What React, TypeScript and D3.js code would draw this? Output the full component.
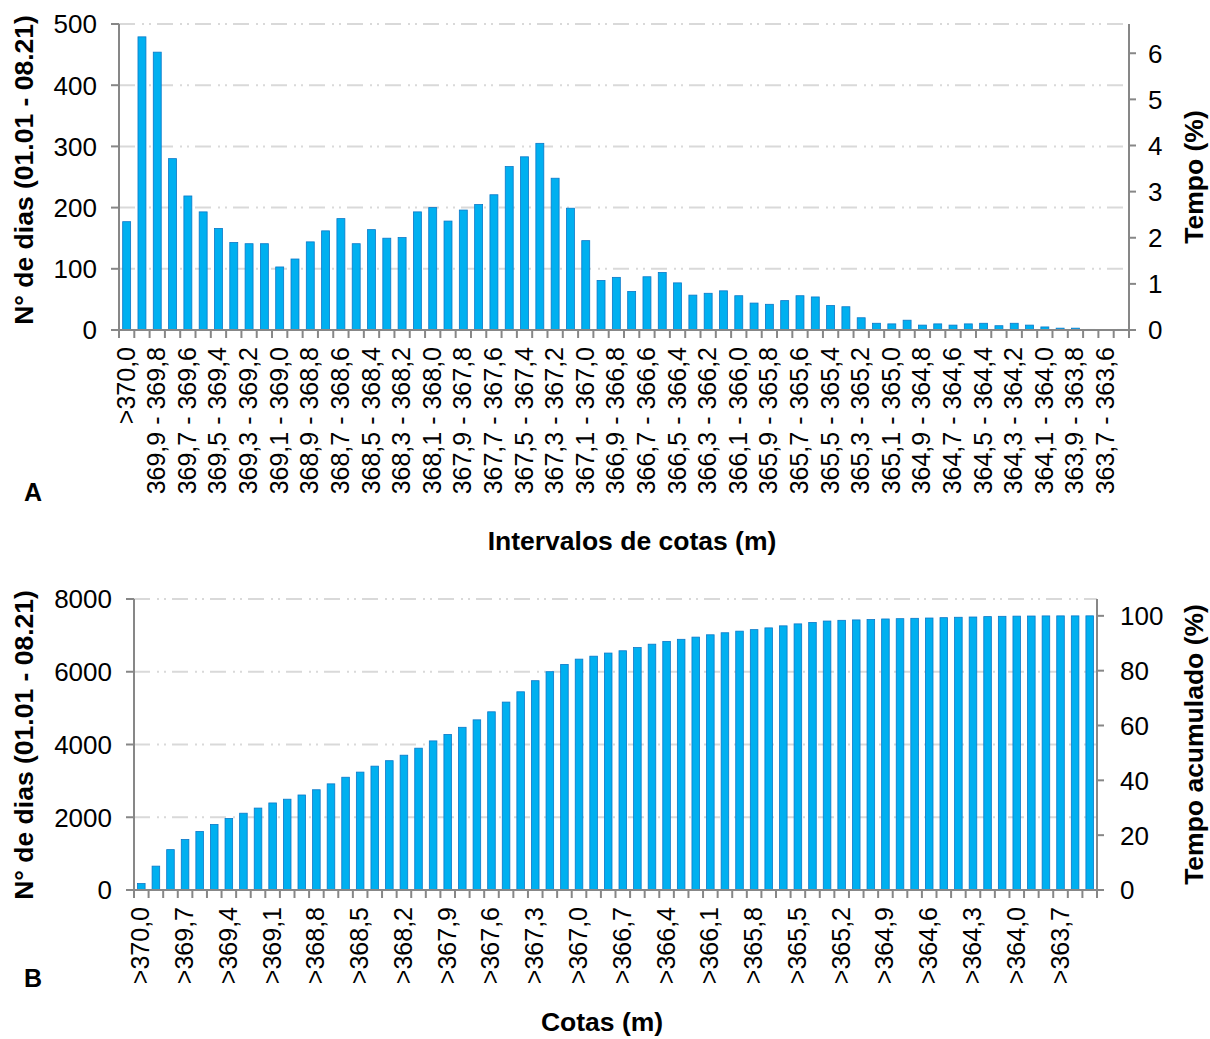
import * as d3 from "d3";

// cotas (m), one per class, from the top level down
const cotas = [
  "370,0", "369,9", "369,8", "369,7", "369,6", "369,5", "369,4", "369,3", "369,2", "369,1",
  "369,0", "368,9", "368,8", "368,7", "368,6", "368,5", "368,4", "368,3", "368,2", "368,1",
  "368,0", "367,9", "367,8", "367,7", "367,6", "367,5", "367,4", "367,3", "367,2", "367,1",
  "367,0", "366,9", "366,8", "366,7", "366,6", "366,5", "366,4", "366,3", "366,2", "366,1",
  "366,0", "365,9", "365,8", "365,7", "365,6", "365,5", "365,4", "365,3", "365,2", "365,1",
  "365,0", "364,9", "364,8", "364,7", "364,6", "364,5", "364,4", "364,3", "364,2", "364,1",
  "364,0", "363,9", "363,8", "363,7", "363,6", "363,5",
];

// number of days in each level interval (panel A)
const diasIntervalo = [
  177, 479, 454, 280, 219, 193, 166, 143, 141, 141,
  103, 116, 144, 162, 182, 141, 164, 150, 151, 193,
  200, 178, 196, 205, 221, 267, 283, 305, 248, 199,
  146, 81, 86, 63, 87, 94, 77, 57, 60, 64,
  56, 44, 42, 48, 56, 54, 40, 38, 20, 11,
  10, 16, 8, 10, 8, 10, 11, 7, 11, 8,
  5, 3, 3, 1, 0, 1,
];

const ticksDiasA = [0, 100, 200, 300, 400, 500];
const ticksTempoA = [0, 1, 2, 3, 4, 5, 6];
const ticksDiasB = [0, 2000, 4000, 6000, 8000];
const ticksTempoB = [0, 20, 40, 60, 80, 100];

const labelsA = cotas.map((c, i) => (i === 0 ? ">" + c : `${cotas[i - 1]} - ${c}`));
const labelsB = cotas.map((c) => ">" + c);
const diasAcumulados = Array.from(d3.cumsum(diasIntervalo));
const totalDias = d3.sum(diasIntervalo);

const FONT = "'Liberation Sans', Arial, Helvetica, sans-serif";
const AXIS = "#878787";
const GRID = "#d9d9d9";
const TITLE_SIZE = 26.5;

interface PanelProps {
  x0: number;
  x1: number;
  y0: number;
  y1: number;
  labels: string[];
  values: number[];
  leftMax: number;
  leftTicks: number[];
  rightTicks: number[];
  labelEvery: number;
  leftTitle: string;
  rightTitle: string;
  bottomTitle: string;
  bottomTitleX: number;
  bottomTitleY: number;
  leftTitleY: number;
  rightLabelGap: number;
  tag: string;
  tagY: number;
}

const Panel = (p: PanelProps) => {
  const x = d3.scaleBand<string>().domain(p.labels).range([p.x0, p.x1]).paddingInner(0.48).paddingOuter(0.24);
  const y = d3.scaleLinear().domain([0, p.leftMax]).range([p.y1, p.y0]);
  const yPct = d3.scaleLinear().domain([0, (p.leftMax / totalDias) * 100]).range([p.y1, p.y0]);
  const step = (p.x1 - p.x0) / p.labels.length;

  return (
    <g fontFamily={FONT}>
      {p.leftTicks.filter((t) => t > 0).map((t) => (
        <line key={"g" + t} x1={p.x0} x2={p.x1} y1={y(t)} y2={y(t)} stroke={GRID} strokeWidth={2} strokeDasharray="16,7,2,5,2,6" />
      ))}

      {p.values.map((v, i) => (
        <rect
          key={i}
          x={x(p.labels[i])}
          y={y(v)}
          width={x.bandwidth()}
          height={p.y1 - y(v)}
          fill="#00b0f0"
          stroke="#0a78c8"
          strokeWidth={0.8}
        />
      ))}

      <line x1={p.x0} x2={p.x0} y1={p.y0} y2={p.y1} stroke={AXIS} strokeWidth={2} />
      <line x1={p.x1} x2={p.x1} y1={p.y0} y2={p.y1} stroke={AXIS} strokeWidth={2} />
      <line x1={p.x0} x2={p.x1} y1={p.y1} y2={p.y1} stroke={AXIS} strokeWidth={2} />

      {d3.range(p.labels.length + 1).map((i) => (
        <line key={"xt" + i} x1={p.x0 + i * step} x2={p.x0 + i * step} y1={p.y1} y2={p.y1 + 8} stroke={AXIS} strokeWidth={2} />
      ))}

      {p.labels.map((l, i) =>
        i % p.labelEvery === 0 ? (
          <text
            key={"xl" + i}
            transform={`translate(${x(l)! + x.bandwidth() / 2 + 8},${p.y1 + 17}) rotate(-90)`}
            textAnchor="end"
            fontSize={25}
            fill="#000"
          >
            {l}
          </text>
        ) : null
      )}

      {p.leftTicks.map((t) => (
        <g key={"yl" + t}>
          <line x1={p.x0 - 8} x2={p.x0} y1={y(t)} y2={y(t)} stroke={AXIS} strokeWidth={2} />
          <text x={p.x0 - 22} y={y(t)} dy="0.36em" textAnchor="end" fontSize={26}>
            {t}
          </text>
        </g>
      ))}

      {p.rightTicks.map((t) => (
        <g key={"yr" + t}>
          <line x1={p.x1} x2={p.x1 + 7} y1={yPct(t)} y2={yPct(t)} stroke={AXIS} strokeWidth={2} />
          <text x={p.x1 + p.rightLabelGap} y={yPct(t)} dy="0.36em" textAnchor="start" fontSize={26}>
            {t}
          </text>
        </g>
      ))}

      <text transform={`translate(33,${p.leftTitleY}) rotate(-90)`} textAnchor="middle" fontSize={TITLE_SIZE} fontWeight="bold">
        {p.leftTitle}
      </text>
      <text transform={`translate(1203,${(p.y0 + p.y1) / 2}) rotate(-90)`} textAnchor="middle" fontSize={TITLE_SIZE} fontWeight="bold">
        {p.rightTitle}
      </text>
      <text x={p.bottomTitleX} y={p.bottomTitleY} textAnchor="middle" fontSize={TITLE_SIZE} fontWeight="bold">
        {p.bottomTitle}
      </text>
      <text x={33} y={p.tagY} textAnchor="middle" fontSize={25} fontWeight="bold">
        {p.tag}
      </text>
    </g>
  );
};

export default function App() {
  return (
    <svg width={1210} height={1039} style={{ position: "absolute", left: 0, top: 0, background: "#fff" }}>
      <rect width={1210} height={1039} fill="#fff" />
      <Panel
        x0={119}
        x1={1129}
        y0={24}
        y1={330}
        labels={labelsA}
        values={diasIntervalo}
        leftMax={500}
        leftTicks={ticksDiasA}
        rightTicks={ticksTempoA}
        labelEvery={2}
        leftTitle="N° de dias (01.01 - 08.21)"
        rightTitle="Tempo (%)"
        bottomTitle="Intervalos de cotas (m)"
        bottomTitleX={632}
        bottomTitleY={550}
        leftTitleY={170}
        rightLabelGap={19}
        tag="A"
        tagY={501}
      />
      <Panel
        x0={134}
        x1={1097}
        y0={599}
        y1={890}
        labels={labelsB}
        values={diasAcumulados}
        leftMax={8000}
        leftTicks={ticksDiasB}
        rightTicks={ticksTempoB}
        labelEvery={3}
        leftTitle="N° de dias (01.01 - 08.21)"
        rightTitle="Tempo acumulado (%)"
        bottomTitle="Cotas (m)"
        bottomTitleX={602}
        bottomTitleY={1031}
        leftTitleY={745}
        rightLabelGap={23}
        tag="B"
        tagY={987}
      />
    </svg>
  );
}
